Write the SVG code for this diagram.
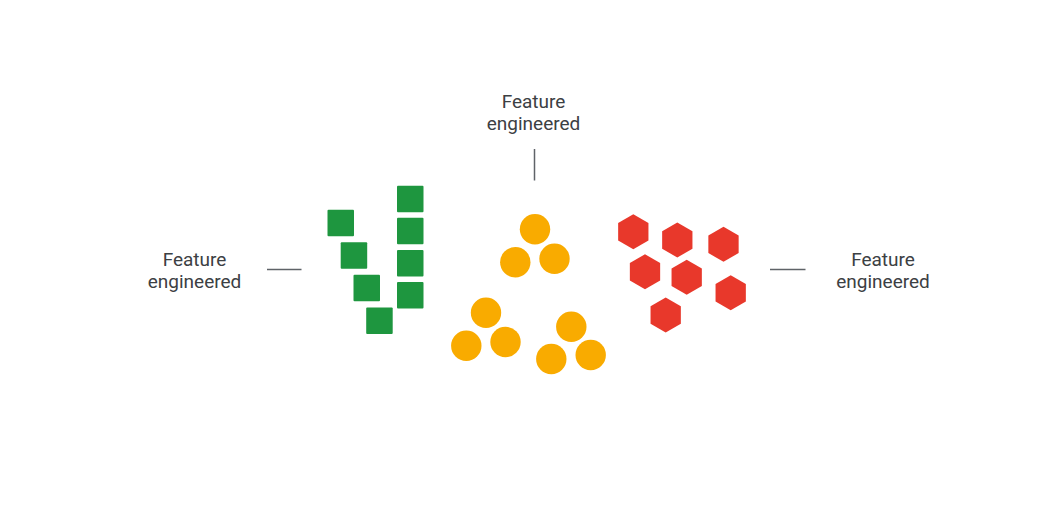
<svg xmlns="http://www.w3.org/2000/svg" width="1043" height="528" viewBox="0 0 1043 528">
  <defs>
    <style>
      .lbl { font-family: Roboto, "Liberation Sans", Arial, sans-serif; font-size: 19px; fill: #3c4043; text-anchor: middle; }
      .conn { stroke: #5f6368; stroke-width: 1.5; fill: none; }
      .sq { fill: #1e963f; }
      .ci { fill: #f9ab00; }
      .hx { fill: #e8382b; }
    </style>
    <rect id="square" width="26.5" height="26.5" rx="1"/>
    <circle id="dot" r="15.2"/>
    <polygon id="hex" points="0,-17.5 15.15,-8.75 15.15,8.75 0,17.5 -15.15,8.75 -15.15,-8.75"/>
  </defs>
  <rect width="1043" height="528" fill="#ffffff"/>

  <g id="connectors">
    <line class="conn" x1="267" y1="269.5" x2="301.5" y2="269.5"/>
    <line class="conn" x1="534.5" y1="149" x2="534.5" y2="180.5"/>
    <line class="conn" x1="770" y1="269.5" x2="805.5" y2="269.5"/>
  </g>

  <g id="label-left">
    <text class="lbl" x="194.5" y="265.5">Feature</text>
    <text class="lbl" x="194.5" y="287.5">engineered</text>
  </g>
  <g id="label-top">
    <text class="lbl" x="533.5" y="108">Feature</text>
    <text class="lbl" x="533.5" y="130">engineered</text>
  </g>
  <g id="label-right">
    <text class="lbl" x="883" y="265.5">Feature</text>
    <text class="lbl" x="883" y="287.5">engineered</text>
  </g>

  <g id="green-squares" class="sq">
    <use href="#square" x="327.5" y="209.8"/>
    <use href="#square" x="340.7" y="242.3"/>
    <use href="#square" x="353.5" y="274.8"/>
    <use href="#square" x="366.2" y="307.5"/>
    <use href="#square" x="397" y="185.8"/>
    <use href="#square" x="397" y="217.8"/>
    <use href="#square" x="397" y="250"/>
    <use href="#square" x="397" y="282"/>
  </g>

  <g id="yellow-circles" class="ci">
    <use href="#dot" x="535" y="229.3"/>
    <use href="#dot" x="515.3" y="262.3"/>
    <use href="#dot" x="554.5" y="258.7"/>
    <use href="#dot" x="486" y="312.7"/>
    <use href="#dot" x="466.3" y="345.7"/>
    <use href="#dot" x="505.5" y="342"/>
    <use href="#dot" x="571.3" y="326.7"/>
    <use href="#dot" x="551.3" y="359"/>
    <use href="#dot" x="590.7" y="355"/>
  </g>

  <g id="red-hexagons" class="hx">
    <use href="#hex" x="633.3" y="231.7"/>
    <use href="#hex" x="677.3" y="240"/>
    <use href="#hex" x="723.5" y="244.3"/>
    <use href="#hex" x="645" y="271.7"/>
    <use href="#hex" x="686.7" y="277.3"/>
    <use href="#hex" x="730.7" y="292.7"/>
    <use href="#hex" x="665.7" y="315"/>
  </g>
</svg>
